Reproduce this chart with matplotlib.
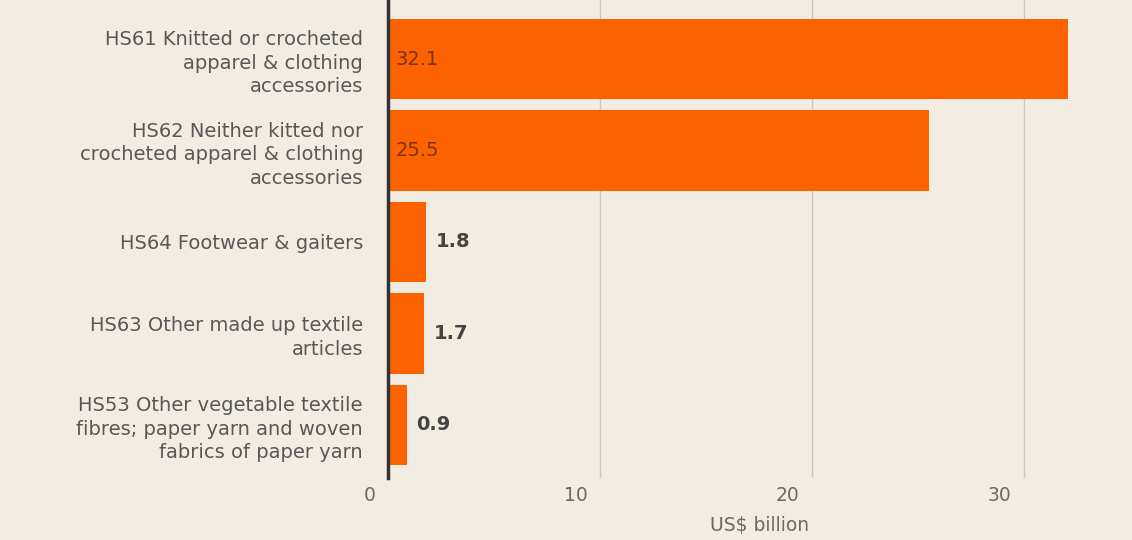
import matplotlib.pyplot as plt
import matplotlib.transforms as mtransforms

categories = [
    "HS61 Knitted or crocheted\napparel & clothing\naccessories",
    "HS62 Neither kitted nor\ncrocheted apparel & clothing\naccessories",
    "HS64 Footwear & gaiters",
    "HS63 Other made up textile\narticles",
    "HS53 Other vegetable textile\nfibres; paper yarn and woven\nfabrics of paper yarn",
]
values = [32.1, 25.5, 1.8, 1.7, 0.9]
xticks = [0, 10, 20, 30]

bg = "#f3ece2"
bar_color = "#fd6200"

plt.rcParams['font.family'] = ['DejaVu Sans']

fig = plt.figure(figsize=(11.32, 5.4), dpi=100, facecolor=bg)
ax = fig.add_axes([388 / 1132, 62 / 540, 744 / 1132, 478 / 540], facecolor=bg)

ypos = list(range(len(values)))
ax.barh(ypos, values, height=0.88, color=bar_color, zorder=2)

ax.set_xlim(0, 35.1)
ax.set_ylim(4.58, -0.645)

ax.set_xticks(xticks)
ax.set_xticklabels([str(t) for t in xticks], color="#6a6a6a", fontsize=13.5)
ax.grid(axis="x", color="#c9c6c0", linewidth=1, zorder=1)
ax.tick_params(axis="x", length=0, pad=6)
shift = mtransforms.ScaledTranslation(-9 / 72, 0, fig.dpi_scale_trans)
for lab in ax.get_xticklabels():
    lab.set_horizontalalignment("right")
    lab.set_transform(lab.get_transform() + shift)

ax.set_yticks(ypos)
ax.set_yticklabels(categories, color="#585858", fontsize=14, linespacing=1.3)
ax.tick_params(axis="y", length=0, pad=18)

for side in ["top", "right", "bottom"]:
    ax.spines[side].set_visible(False)
ax.spines["left"].set_color("#333333")
ax.spines["left"].set_linewidth(2.5)
ax.spines["left"].set_zorder(3)

ax.set_xlabel("US$ billion", color="#6a6a6a", fontsize=13.5, labelpad=8)

# big bars get their value inside, small ones just past the end
for y, v in zip(ypos, values):
    if v > 10:
        ax.text(0.35, y, f"{v}", va="center", ha="left", fontsize=14,
                color="#7e3010", zorder=4)
    else:
        ax.text(v + 0.45, y, f"{v}", va="center", ha="left", fontsize=14,
                color="#444444", fontweight="bold", zorder=4)

fig.savefig("out.png", dpi=100, facecolor=bg)
